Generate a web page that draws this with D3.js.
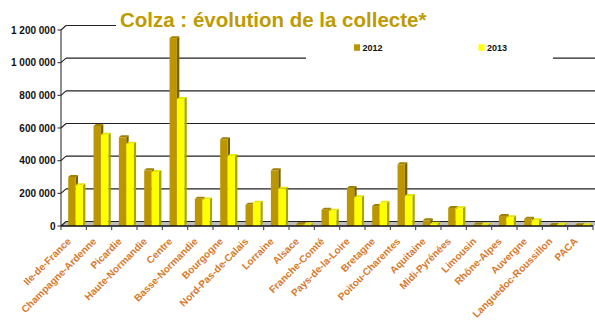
<!DOCTYPE html>
<html>
<head>
<meta charset="utf-8">
<script src="https://cdn.jsdelivr.net/npm/d3@7/dist/d3.min.js"></script>
<style>
  body { margin: 0; background: #fff; }
  svg { display: block; font-family: "Liberation Sans", Arial, sans-serif; }
</style>
</head>
<body>
<svg id="chart" width="595" height="320"></svg>
<script>
// Collecte de colza par région (tonnes)
const regions = ["Ile-de-France", "Champagne-Ardenne", "Picardie", "Haute-Normandie", "Centre",
  "Basse-Normandie", "Bourgogne", "Nord-Pas-de-Calais", "Lorraine", "Alsace", "Franche-Comté",
  "Pays-de-la-Loire", "Bretagne", "Poitou-Charentes", "Aquitaine", "Midi-Pyrénées", "Limousin",
  "Rhône-Alpes", "Auvergne", "Languedoc-Roussillon", "PACA"];
const collecte2012 = [300000, 612000, 543000, 341000, 1150000, 167000, 531000, 130000, 341000, 12000,
  100000, 233000, 122000, 378000, 35000, 110000, 9000, 61000, 45000, 6000, 5000];
const collecte2013 = [249000, 559000, 504000, 331000, 778000, 163000, 429000, 143000, 228000, 9000,
  94000, 176000, 143000, 184000, 14000, 108000, 7000, 53000, 35000, 8000, 4000];
const seriesNames = ["2012", "2013"];
const yTickValues = [0, 200000, 400000, 600000, 800000, 1000000, 1200000];

const titleText = "Colza : évolution de la collecte*";

const colors = {
  "2012": { front: "#BC9600", side: "#7A6100", top: "#A08000" },
  "2013": { front: "#FFFF00", side: "#A6A600", top: "#E6E600" }
};
const labelColor = "#D8782A";
const titleColor = "#BF9A00";

const svg = d3.select("#chart");

// Plot frame: front plane + depth offset for the back wall
const plotLeft = 61, plotRight = 593, plotTop = 30, plotBottom = 226;
const depth = { dx: 5, dy: -4.5 };   // back wall offset
const barDepth = { dx: 2.4, dy: -2 }; // bar extrusion

const y = d3.scaleLinear().domain([0, 1200000]).range([plotBottom, plotTop]);
const x0 = d3.scaleBand().domain(regions).range([plotLeft, plotRight]).padding(0);
const x1 = d3.scaleBand().domain(seriesNames).range([7.2, 22]).padding(0);

const fmt = d3.formatLocale({ decimal: ",", thousands: " ", grouping: [3], currency: ["", " €"] }).format(",");

// Back-wall gridlines
const grid = svg.append("g");
yTickValues.forEach(v => {
  if (v === 0) return;
  grid.append("line")
    .attr("x1", plotLeft + depth.dx).attr("x2", 600)
    .attr("y1", y(v) + depth.dy).attr("y2", y(v) + depth.dy)
    .attr("stroke", "#222").attr("stroke-width", 1.1);
});

// Floor
svg.append("polygon")
  .attr("points", [[plotLeft, plotBottom], [plotLeft + depth.dx, plotBottom + depth.dy],
                   [600, plotBottom + depth.dy], [600, plotBottom]].join(" "))
  .attr("fill", "#BDBDBD");
svg.append("line")
  .attr("x1", plotLeft + depth.dx).attr("x2", 600)
  .attr("y1", plotBottom + depth.dy).attr("y2", plotBottom + depth.dy)
  .attr("stroke", "#222").attr("stroke-width", 1);

// White boxes behind the title and the legend
svg.append("rect").attr("x", 116).attr("y", 6).attr("width", 484).attr("height", 26).attr("fill", "#fff");
svg.append("rect").attr("x", 306).attr("y", 36).attr("width", 247).attr("height", 26).attr("fill", "#fff");

// Bars
const data2 = regions.map((r, i) => ({ region: r, values: [
  { key: "2012", value: collecte2012[i] },
  { key: "2013", value: collecte2013[i] }
]}));

const groups = svg.append("g").selectAll("g").data(data2).join("g")
  .attr("transform", d => `translate(${x0(d.region)},0)`);

groups.each(function(d) {
  const g = d3.select(this);
  d.values.forEach(s => {
    const bx = x1(s.key), bw = x1.bandwidth();
    const yt = y(s.value), yb = y(0);
    const c = colors[s.key];
    const dx = barDepth.dx, dy = barDepth.dy;
    g.append("polygon")
      .attr("points", [[bx + bw, yt], [bx + bw + dx, yt + dy], [bx + bw + dx, yb + dy], [bx + bw, yb]].join(" "))
      .attr("fill", c.side);
    g.append("polygon")
      .attr("points", [[bx, yt], [bx + dx, yt + dy], [bx + bw + dx, yt + dy], [bx + bw, yt]].join(" "))
      .attr("fill", c.top);
    g.append("rect")
      .attr("x", bx).attr("y", yt).attr("width", bw).attr("height", yb - yt)
      .attr("fill", c.front);
  });
});

// Value axis (front) with ticks and slanted connectors
const axis = svg.append("g");
axis.append("line").attr("x1", plotLeft).attr("x2", plotLeft).attr("y1", y(1200000)).attr("y2", plotBottom)
  .attr("stroke", "#444").attr("stroke-width", 1.2);
yTickValues.forEach(v => {
  axis.append("line").attr("x1", plotLeft - 3.5).attr("x2", plotLeft).attr("y1", y(v)).attr("y2", y(v))
    .attr("stroke", "#333").attr("stroke-width", 1.1);
  axis.append("line").attr("x1", plotLeft).attr("x2", plotLeft + depth.dx)
    .attr("y1", y(v)).attr("y2", y(v) + depth.dy)
    .attr("stroke", "#222").attr("stroke-width", 1.1);
  axis.append("text")
    .attr("x", 55.5).attr("y", y(v) + 3.6)
    .attr("text-anchor", "end")
    .attr("font-size", 10).attr("font-weight", "bold").attr("fill", "#111")
    .text(fmt(v));
});

// Category axis: front edge, ticks, rotated labels
svg.append("line").attr("x1", plotLeft).attr("x2", plotRight).attr("y1", plotBottom).attr("y2", plotBottom)
  .attr("stroke", "#111").attr("stroke-width", 1.3);
const catBounds = regions.map(r => x0(r)).concat([plotRight]);
catBounds.forEach(bx => {
  svg.append("line").attr("x1", bx).attr("x2", bx).attr("y1", plotBottom).attr("y2", plotBottom + 4)
    .attr("stroke", "#444").attr("stroke-width", 1.1);
});
svg.append("g").selectAll("text").data(regions).join("text")
  .attr("transform", d => `translate(${x0(d) + x0.bandwidth() / 2 - 2},${plotBottom + 16}) rotate(-45)`)
  .attr("text-anchor", "end")
  .attr("font-size", 10).attr("font-weight", "bold").attr("fill", labelColor)
  .text(d => d);

// Title
svg.append("text")
  .attr("x", 120).attr("y", 26.5)
  .attr("font-size", 20.5).attr("font-weight", "bold").attr("fill", titleColor)
  .text(titleText);

// Legend
const legendPos = { "2012": 354, "2013": 478.5 };
seriesNames.forEach(k => {
  svg.append("rect").attr("x", legendPos[k]).attr("y", 44.3).attr("width", 6).attr("height", 6.5)
    .attr("fill", colors[k].front);
  svg.append("text").attr("x", legendPos[k] + 8.5).attr("y", 51)
    .attr("font-size", 9).attr("font-weight", "bold").attr("fill", "#111")
    .text(k);
});
</script>
</body>
</html>
